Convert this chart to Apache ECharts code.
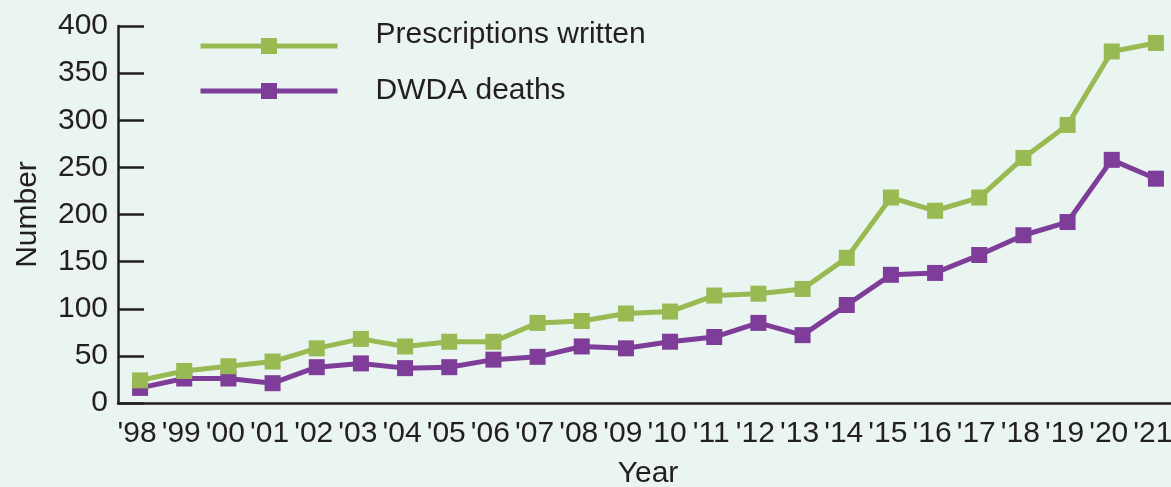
<!DOCTYPE html>
<html>
<head>
<meta charset="utf-8">
<script src="https://cdn.jsdelivr.net/npm/echarts@6/dist/echarts.min.js"></script>
<style>
html,body{margin:0;padding:0;background:#eaf4f0;}
#c{width:1171px;height:487px;}
</style>
</head>
<body>
<div id="c"></div>
<script>
const years = ["'98","'99","'00","'01","'02","'03","'04","'05","'06","'07","'08","'09","'10","'11","'12","'13","'14","'15","'16","'17","'18","'19","'20","'21"];
const prescriptions = [24,34,39,44,58,68,60,65,65,85,87,95,97,114,116,121,154,218,204,218,260,295,373,382];
const deaths = [16,26,26,21,38,42,37,38,46,49,60,58,65,70,85,72,104,136,138,157,178,192,258,238];
const yTicks = {min:0, max:400, interval:50};

const FONT = '"Liberation Sans Narrow","Arial Narrow","Liberation Sans",sans-serif';
const INK = '#231f20';
const GREEN = '#99ba52';
const PURPLE = '#7e3d98';

const chart = echarts.init(document.getElementById('c'));
chart.setOption({
  backgroundColor: '#eaf4f0',
  animation: false,
  textStyle: {fontFamily: FONT, color: INK},
  grid: {left: 118, top: 26, width: 1060, height: 377, containLabel: false, outerBoundsMode: 'none'},
  legend: [
    {
      data: ['Prescriptions written'],
      formatter: function (n) { return n + '\n '; },
      left: 198, top: 20, padding: 0, orient: 'vertical',
      itemWidth: 137, itemHeight: 20,
      lineStyle: {width: 5},
      textStyle: {fontFamily: FONT, fontSize: 30, color: INK, lineHeight: 22, padding: [0,0,0,33]}
    },
    {
      data: ['DWDA deaths'],
      left: 198, top: 76, padding: 0, orient: 'vertical',
      itemWidth: 137, itemHeight: 20,
      lineStyle: {width: 5},
      textStyle: {fontFamily: FONT, fontSize: 30, color: INK, padding: [0,0,0,33]}
    }
  ],
  xAxis: {
    type: 'category',
    data: years,
    boundaryGap: true,
    name: 'Year',
    nameLocation: 'middle',
    nameGap: 56,
    nameTextStyle: {fontFamily: FONT, fontSize: 30, color: INK},
    axisLine: {lineStyle: {color: INK, width: 2.5}},
    axisTick: {inside: true, length: 9, alignWithLabel: false, lineStyle: {color: INK, width: 2.5}},
    axisLabel: {fontFamily: FONT, fontSize: 30, color: INK, margin: 16, interval: 0, padding: [0,6,0,0]},
    splitLine: {show: false}
  },
  yAxis: {
    type: 'value',
    min: yTicks.min, max: yTicks.max, interval: yTicks.interval,
    name: 'Number',
    nameLocation: 'middle',
    nameGap: 75,
    nameRotate: 90,
    nameTextStyle: {fontFamily: FONT, fontSize: 30, color: INK},
    axisLine: {show: true, lineStyle: {color: INK, width: 2.5}},
    axisTick: {show: true, inside: true, length: 26, lineStyle: {color: INK, width: 2.5}},
    axisLabel: {fontFamily: FONT, fontSize: 30, color: INK, margin: 10, padding: [9,0,0,0]},
    splitLine: {show: false}
  },
  series: [
    {
      name: 'Prescriptions written', type: 'line', data: prescriptions, z: 3,
      symbol: 'rect', symbolSize: 16,
      lineStyle: {color: GREEN, width: 5},
      itemStyle: {color: GREEN}
    },
    {
      name: 'DWDA deaths', type: 'line', data: deaths, z: 2,
      symbol: 'rect', symbolSize: 16,
      lineStyle: {color: PURPLE, width: 5},
      itemStyle: {color: PURPLE}
    }
  ]
});
</script>
</body>
</html>
